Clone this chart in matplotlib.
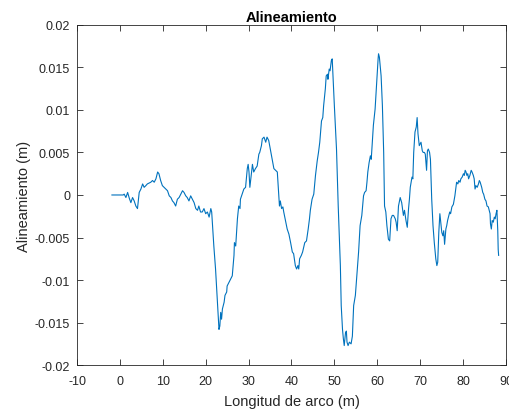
import matplotlib
matplotlib.use("Agg")
import matplotlib.pyplot as plt
import numpy as np

plt.rcParams['font.family'] = ['Liberation Sans', 'DejaVu Sans']
plt.rcParams['axes.unicode_minus'] = False

# arc length (m) and alignment (m)
x = [-1.86, 0.77, 1.0, 1.4, 1.8, 2.2, 2.56, 2.95, 3.33, 3.72, 4.1, 4.5, 4.9, 5.3, 5.65,
     6.05, 6.4, 6.8, 7.2, 7.6, 8.0, 8.4, 8.8, 9.1, 9.5, 9.9, 10.3, 10.7, 11.1, 11.5,
     11.9, 12.25, 12.6, 13.0, 13.4, 13.8, 14.2, 14.6, 14.95, 15.35, 15.7, 16.1, 16.5,
     16.9, 17.3, 17.7, 18.1, 18.4, 18.8, 19.2, 19.6, 20.0, 20.4, 20.8, 21.2,
     21.4, 21.55, 21.9, 22.3, 22.7, 23.1, 23.3, 23.5, 23.7, 23.9, 24.3, 24.5, 24.9, 25.0,
     25.4, 25.8, 26.2, 26.6, 26.7, 27.0, 27.4, 27.7, 28.0, 28.1, 28.5, 28.9, 29.3, 29.7,
     29.9, 30.1, 30.3, 30.6, 30.9, 31.2, 31.6, 32.0, 32.4, 32.6, 33.0, 33.2, 33.6, 34.0,
     34.3, 34.7, 35.0,
     35.5, 35.9, 36.3, 36.7, 36.9, 37.2, 37.4, 37.7, 38.0, 38.2, 38.6, 39.0, 39.4, 39.8,
     40.2, 40.5, 40.9, 41.2, 41.5, 41.7, 41.9, 42.3, 42.6, 43.1, 43.5, 43.9, 44.2, 44.4,
     44.8, 45.2, 45.6, 46.0, 46.3, 46.6, 47.0, 47.3, 47.5, 47.9, 48.1, 48.4, 48.5, 48.8,
     49.0, 49.3, 49.5,
     50.0, 50.5, 50.9, 51.4, 51.6, 51.9, 52.1, 52.3, 52.6, 52.8, 52.95, 53.2, 53.5, 53.9,
     54.2, 54.5, 54.9, 55.3, 55.65, 56.0, 56.4, 56.8, 57.05, 57.4, 57.6, 57.8, 58.1, 58.4,
     58.6, 58.9, 59.1, 59.5, 59.9, 60.2, 60.3, 60.5, 60.9, 61.2, 61.5, 61.7, 62.0, 62.25,
     62.6, 62.9, 63.2, 63.5, 63.8, 64.2,
     64.4, 64.65, 64.95, 65.35, 65.7, 66.1, 66.35, 66.7, 67.0, 67.3, 67.5, 67.7, 68.1,
     68.3, 68.5, 68.8, 69.1, 69.3, 69.5, 69.8, 70.0, 70.2, 70.5, 70.7, 71.0, 71.2, 71.5,
     71.7, 71.9, 72.2, 72.4, 72.7, 73.0, 73.3, 73.65, 73.9, 74.1, 74.35, 74.6, 74.8,
     75.05, 75.3, 75.5, 75.7, 76.0, 76.2, 76.4, 76.7, 76.9, 77.1,
     77.4, 77.75, 78.1, 78.4, 78.5, 78.8, 79.0, 79.3, 79.5, 79.8, 80.1, 80.3, 80.5, 80.7,
     80.9, 81.1, 81.3, 81.6, 81.9, 82.1, 82.4, 82.6, 82.8, 83.0, 83.3, 83.6, 83.8, 84.0,
     84.35, 84.6, 84.8, 85.1, 85.35, 85.6, 85.9, 86.1, 86.3, 86.4, 86.6, 86.8, 87.05,
     87.3, 87.5, 87.7, 87.9, 88.1, 88.2, 88.3]
y = [0.0, 0.0, 0.0001, -0.0003, 0.0003, -0.0004, -0.0009, -0.0003, -0.0007, -0.0013,
     -0.0016, 0.0003, 0.0007, 0.0013, 0.0009, 0.0011, 0.0013, 0.0014, 0.0015, 0.0017,
     0.0015, 0.0019, 0.0027, 0.0025, 0.0017, 0.0011, 0.0009, 0.0007, 0.0005, -0.0001,
     -0.0003, -0.0007, -0.0009, -0.0013, -0.0005, -0.0003, 0.0001, 0.0005, 0.0003,
     -0.0001, -0.0003, -0.0007, -0.0001, -0.0005, -0.0009, -0.0016, -0.0018, -0.0013,
     -0.0020, -0.0020, -0.0016, -0.0022, -0.0020, -0.0026, -0.0016,
     -0.0020, -0.0032, -0.0060, -0.0087, -0.0122, -0.0158, -0.0154, -0.0138, -0.0146,
     -0.0134, -0.0126, -0.0118, -0.0114, -0.0107, -0.0103, -0.0099, -0.0095, -0.0071,
     -0.0056, -0.0060, -0.0028, -0.0013, -0.0016, -0.0005, 0.0001, 0.0007, 0.0009,
     0.0031, 0.0036, 0.0027, 0.0009, 0.0023, 0.0036, 0.0027, 0.0031, 0.0034, 0.0048,
     0.0050, 0.0058, 0.0066, 0.0068, 0.0062, 0.0068, 0.0064, 0.0056,
     0.0042, 0.0031, 0.0029, 0.0027, 0.0011, -0.0013, -0.0007, -0.0016, -0.0014,
     -0.0020, -0.0030, -0.0040, -0.0046, -0.0056, -0.0067, -0.0069, -0.0083, -0.0087,
     -0.0083, -0.0087, -0.0075, -0.0071, -0.0067, -0.0056, -0.0054, -0.0040, -0.0028,
     -0.0018, -0.0005, 0.0001, 0.0023, 0.0040, 0.0050, 0.0062, 0.0087, 0.0091, 0.0105,
     0.0125, 0.0140, 0.0142, 0.0136, 0.0148, 0.0146, 0.0158, 0.0160,
     0.0105, 0.0054, -0.0013, -0.0083, -0.0130, -0.0158, -0.0169, -0.0177, -0.0162,
     -0.0160, -0.0173, -0.0177, -0.0173, -0.0175, -0.0166, -0.0130, -0.0118, -0.0091,
     -0.0067, -0.0036, -0.0024, -0.0001, 0.0003, 0.0005, 0.0015, 0.0027, 0.0038, 0.0046,
     0.0042, 0.0066, 0.0082, 0.0101, 0.0136, 0.0160, 0.0166, 0.0162, 0.0140, 0.0105,
     0.0050, -0.0013, -0.0020, -0.0036, -0.0052, -0.0054, -0.0028, -0.0024, -0.0024,
     -0.0028,
     -0.0032, -0.0042, -0.0013, -0.0003, -0.0009, -0.0024, -0.0018, -0.0030, -0.0038,
     -0.0016, -0.0005, 0.0009, 0.0021, 0.0019, 0.0050, 0.0074, 0.0080, 0.0091, 0.0072,
     0.0058, 0.0060, 0.0062, 0.0052, 0.0050, 0.0050, 0.0048, 0.0029, 0.0052, 0.0054,
     0.0050, 0.0042, -0.0005, -0.0036, -0.0056, -0.0075, -0.0083, -0.0079, -0.0044,
     -0.0022, -0.0032, -0.0044, -0.0048, -0.0042, -0.0058, -0.0040, -0.0036, -0.0030,
     -0.0024, -0.0020, -0.0022,
     -0.0014, -0.0011, -0.0001, 0.0011, 0.0015, 0.0013, 0.0017, 0.0015, 0.0019, 0.0021,
     0.0025, 0.0023, 0.0029, 0.0027, 0.0023, 0.0025, 0.0019, 0.0023, 0.0029, 0.0027,
     0.0023, 0.0019, 0.0007, 0.0011, 0.0009, 0.0013, 0.0017, 0.0015, 0.0009, 0.0003,
     0.0001, -0.0005, -0.0007, -0.0013, -0.0014, -0.0018, -0.0022, -0.0034, -0.0040,
     -0.0030, -0.0032, -0.0026, -0.0028, -0.0022, -0.0018, -0.0042, -0.0064, -0.0071]

xticks = [-10, 0, 10, 20, 30, 40, 50, 60, 70, 80, 90]
yticks = [-0.02, -0.015, -0.01, -0.005, 0, 0.005, 0.01, 0.015, 0.02]
ytick_labels = ['-0.02', '-0.015', '-0.01', '-0.005', '0', '0.005', '0.01', '0.015', '0.02']

fig = plt.figure(figsize=(5.1, 4.1), dpi=100)
ax = fig.add_axes([0.151, 0.107, 0.841, 0.83])

ax.plot(x, y, color='#0072BD', linewidth=0.8)

ax.set_xlim(-10, 90)
ax.set_ylim(-0.02, 0.02)
ax.set_xticks(xticks)
ax.set_xticklabels([str(t) for t in xticks])
ax.set_yticks(yticks)
ax.set_yticklabels(ytick_labels)

grey = '#262626'
for s in ax.spines.values():
    s.set_color(grey)
    s.set_linewidth(0.6)
ax.tick_params(direction='in', length=4, width=0.6, color=grey, labelsize=9,
               labelcolor=grey, top=True, right=True)
ax.tick_params(axis='x', pad=7)
ax.tick_params(axis='y', pad=5)

ax.set_title('Alineamiento', fontsize=10.5, fontweight='bold', pad=3)
ax.set_xlabel('Longitud de arco (m)', fontsize=10.5, color=grey, labelpad=5)
ax.set_ylabel('Alineamiento (m)', fontsize=10.5, color=grey, labelpad=3)

fig.savefig('out.png', dpi=100)
